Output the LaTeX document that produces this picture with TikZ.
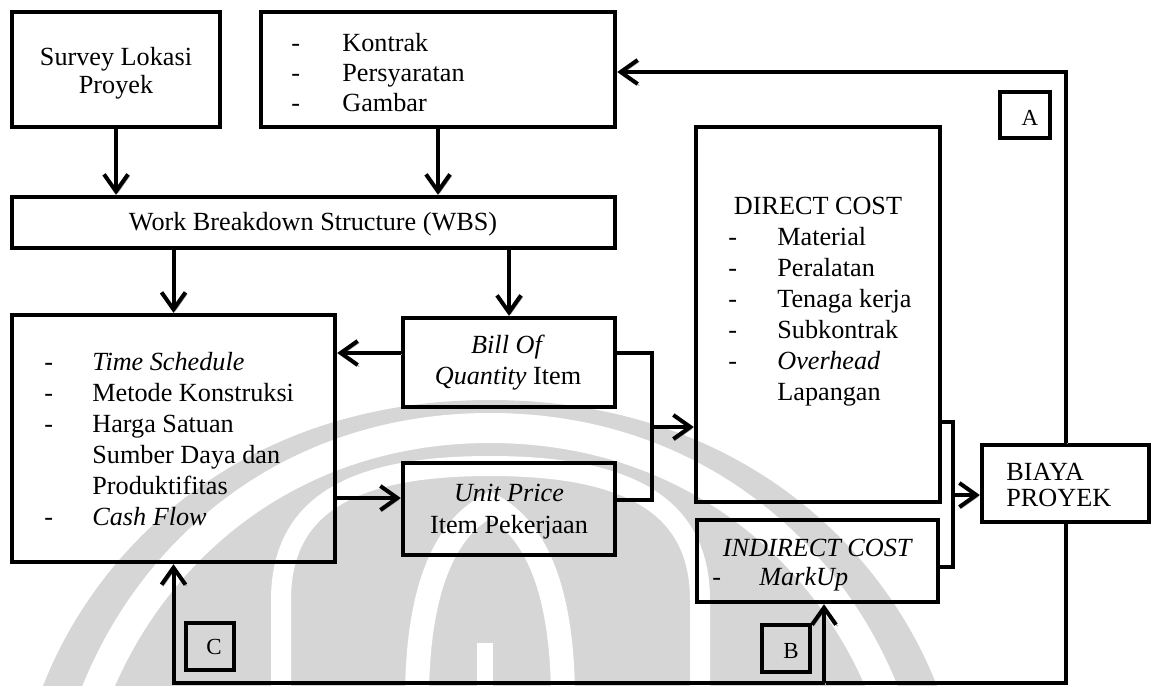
\documentclass[tikz,border=0pt]{standalone}
\usepackage{fontspec}
\setmainfont{Liberation Serif}
\usetikzlibrary{arrows.meta,fit}
\begin{document}
\begin{tikzpicture}[x=0.5pt,y=-0.5pt,
  every node/.style={font=\fontsize{13.1}{15.3}\selectfont, inner sep=0pt},
  box/.style={draw, line width=2.2pt, inner sep=0pt},
  tagbox/.style={draw, line width=2.2pt, inner sep=0pt},
  tagtxt/.style={anchor=base, font=\fontsize{11.5}{13}\selectfont},
  txt/.style={anchor=base},
  ltxt/.style={anchor=base west},
  shade/.style={preaction={draw=black!40, transform canvas={xshift=0.8pt,yshift=-0.8pt}}},
  link/.style={line width=2pt, shade},
  arr/.style={line width=2pt, shade, -{Straight Barb[length=8.5pt,width=12pt]}},
  wm/.style={fill=black!16},
  wmgap/.style={draw=white, line width=#1},
]
\useasboundingbox (0,0) rectangle (1153,686);

% faint logo in the background
\begin{scope}
  \clip (0,0) rectangle (1153,686);
  \fill[wm] (43,700) -- (43,686) .. controls (100,540) and (250,400) .. (490,400)
            .. controls (730,400) and (880,540) .. (937,686) -- (937,700) -- cycle;
  \draw[wmgap=15pt] (93,700) .. controls (150,550) and (290,428) .. (490,428)
            .. controls (690,428) and (830,550) .. (887,700);
  \draw[wmgap=10pt] (281,700) -- (281,600) .. controls (281,500) and (360,466) .. (490,466)
            .. controls (620,466) and (700,500) .. (700,600) -- (700,700);
  \draw[wmgap=12pt] (417,700) .. controls (417,600) and (440,530) .. (490,505)
            .. controls (540,530) and (563,600) .. (563,700);
  \draw[wmgap=8pt] (485,643) -- (485,700);
\end{scope}

% boxes
\node[box, fit={(12,12) (220,127)}] (surv) {};
\node[box, fit={(261,12) (615,127)}] (kont) {};
\node[box, fit={(12,197) (615,248)}] (wbs) {};
\node[box, fit={(12,315) (335,562)}] (left) {};
\node[box, fit={(403,318) (615,407)}] (boq) {};
\node[box, fit={(403,463) (615,555)}] (up) {};
\node[box, fit={(696,127) (940,502)}] (dc) {};
\node[box, fit={(697,520) (938,602)}] (ic) {};
\node[box, fit={(982,445) (1149,522)}] (biaya) {};
\node[tagbox, fit={(1000,92) (1050,138)}] (tagA) {};
\node[tagbox, fit={(762,625) (810,672)}] (tagB) {};
\node[tagbox, fit={(186,623) (234,670)}] (tagC) {};

% texts
\node[txt] (survA) at (116,65) {Survey Lokasi};
\node[txt] (survB) at (116,93) {Proyek};
\foreach \t [count=\i, evaluate=\i as \yy using 21+30*\i] in {Kontrak,Persyaratan,Gambar}{
  \node[ltxt] (kdash\i) at (291,\yy) {-};
  \node[ltxt] (kitem\i) at (342,\yy) {\t};
}
\node[txt] (wbsT) at (313,230) {Work Breakdown Structure (WBS)};

\node[ltxt] (ld1) at (44,370) {-};
\node[ltxt] (li1) at (92,370) {\textit{Time Schedule}};
\node[ltxt] (ld2) at (44,401) {-};
\node[ltxt] (li2) at (92,401) {Metode Konstruksi};
\node[ltxt] (ld3) at (44,432) {-};
\node[ltxt] (li3) at (92,432) {Harga Satuan};
\node[ltxt] (li4) at (92,463) {Sumber Daya dan};
\node[ltxt] (li5) at (92,494) {Produktifitas};
\node[ltxt] (ld6) at (44,525) {-};
\node[ltxt] (li6) at (92,525) {\textit{Cash Flow}};

\node[txt] (boqA) at (508,353) {\textit{Bill Of}};
\node[txt] (boqB) at (508,384) {\textit{Quantity} Item};
\node[txt] (upA) at (509,501) {\textit{Unit Price}};
\node[txt] (upB) at (509,533) {Item Pekerjaan};

\node[txt] (dcT) at (818,214) {DIRECT COST};
\foreach \t [count=\i, evaluate=\i as \yy using 214+31*\i] in
    {Material,Peralatan,Tenaga kerja,Subkontrak,\textit{Overhead}}{
  \node[ltxt] (ddash\i) at (728,\yy) {-};
  \node[ltxt] (ditem\i) at (777,\yy) {\t};
}
\node[ltxt] (ditem6) at (777,400) {Lapangan};

\node[txt] (icT) at (818,556) {\textit{INDIRECT COST}};
\node[ltxt] (icd) at (712,585) {-};
\node[ltxt] (ici) at (759,585) {\textit{MarkUp}};

\node[ltxt] (biA) at (1006,480) {BIAYA};
\node[ltxt] (biB) at (1006,506) {PROYEK};

\node[tagtxt] (tA) at (1030,125) {A};
\node[tagtxt] (tB) at (791,658) {B};
\node[tagtxt] (tC) at (214,654) {C};

% connectors
\coordinate (q1) at (652,353);
\coordinate (q2) at (652,500);
\coordinate (q3) at (652,427);
\coordinate (p1) at (370,498);
\coordinate (r1) at (953,422);
\coordinate (r2) at (953,567);
\coordinate (r3) at (953,495);
\coordinate (fa) at (0,72);
\coordinate (fb) at (0,683);
\coordinate (bb) at (824,683);

\draw[arr] (surv.south) -- (surv.south |- wbs.north);
\draw[arr] (kont.south) -- (kont.south |- wbs.north);
\draw[arr] (left.north |- wbs.south) -- (left.north);
\draw[arr] (boq.north |- wbs.south) -- (boq.north);
\draw[arr] (boq.west |- q1) -- (left.east |- q1);
\draw[arr] (left.east |- p1) -- (up.west |- p1);
\draw[link] (boq.east |- q1) -- (q1) -- (q2) -- (up.east |- q2);
\draw[arr] (q3) -- (dc.west |- q3);
\draw[link] (dc.east |- r1) -- (r1) -- (r2) -- (ic.east |- r2);
\draw[arr] (r3) -- (biaya.west |- r3);
\draw[arr] (biaya.north) |- (kont.east |- fa);
\draw[arr] (biaya.south) |- (left.south |- fb) -- (left.south);
\draw[arr] (bb) -- (ic.south -| bb);
\end{tikzpicture}
\end{document}
